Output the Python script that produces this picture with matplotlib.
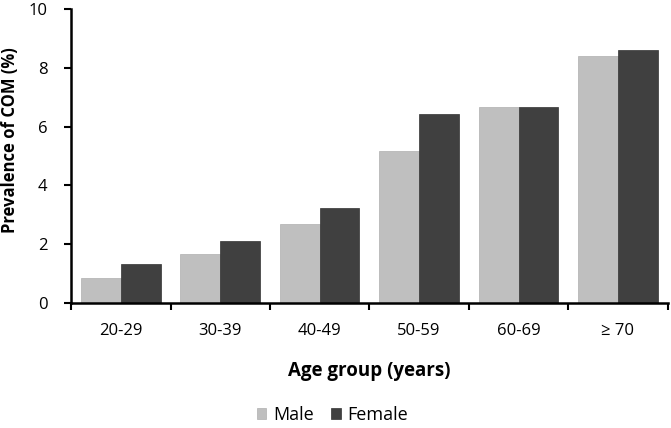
import numpy as np
import matplotlib
matplotlib.use("Agg")
from matplotlib import pyplot as plt

# data
age_groups = ["20-29", "30-39", "40-49", "50-59", "60-69", "\u2265 70"]
male = [0.85, 1.67, 2.69, 5.18, 6.66, 8.40]
female = [1.33, 2.11, 3.23, 6.41, 6.67, 8.60]

plt.rcParams['font.family'] = ['Open Sans', 'DejaVu Sans']

fig = plt.figure(figsize=(6.71, 4.28), dpi=100)
ax = fig.add_axes([0.106, 0.291, 0.889, 0.689])

x = np.arange(len(age_groups))
w = 0.4
ax.bar(x - w / 2, male, w, color="#bfbfbf", edgecolor="#b0b0b0", linewidth=0.5, label="Male")
ax.bar(x + w / 2, female, w, color="#404040", edgecolor="#333333", linewidth=0.5, label="Female")

ax.set_xlim(-0.5, len(age_groups) - 0.5)
ax.set_ylim(0, 10)
ax.set_yticks(range(0, 11, 2))
ax.set_xticks(x)
ax.set_xticklabels(age_groups)
ax.set_xticks(np.arange(-0.5, len(age_groups)), minor=True)
ax.tick_params(axis="x", which="major", length=0, pad=14, labelsize=12)
ax.tick_params(axis="x", which="minor", length=5, width=1.5, direction="out")
ax.tick_params(axis="y", length=5, width=1.5, labelsize=12, pad=12)

for s in ["top", "right"]:
    ax.spines[s].set_visible(False)
for s in ["left", "bottom"]:
    ax.spines[s].set_linewidth(1.8)

ax.set_xlabel("Age group (years)", fontsize=13.5, fontweight="bold", labelpad=16)
ax.set_ylabel("Prevalence of COM (%)", fontsize=12, fontweight="bold")
ax.yaxis.set_label_coords(-0.087, 0.553)

fig.legend(loc="center", bbox_to_anchor=(0.495, 0.03), ncol=2, frameon=False,
           fontsize=13, handlelength=0.55, handleheight=0.55, handletextpad=0.35,
           columnspacing=0.95, borderpad=0.2)

fig.savefig("out.png", dpi=100)
